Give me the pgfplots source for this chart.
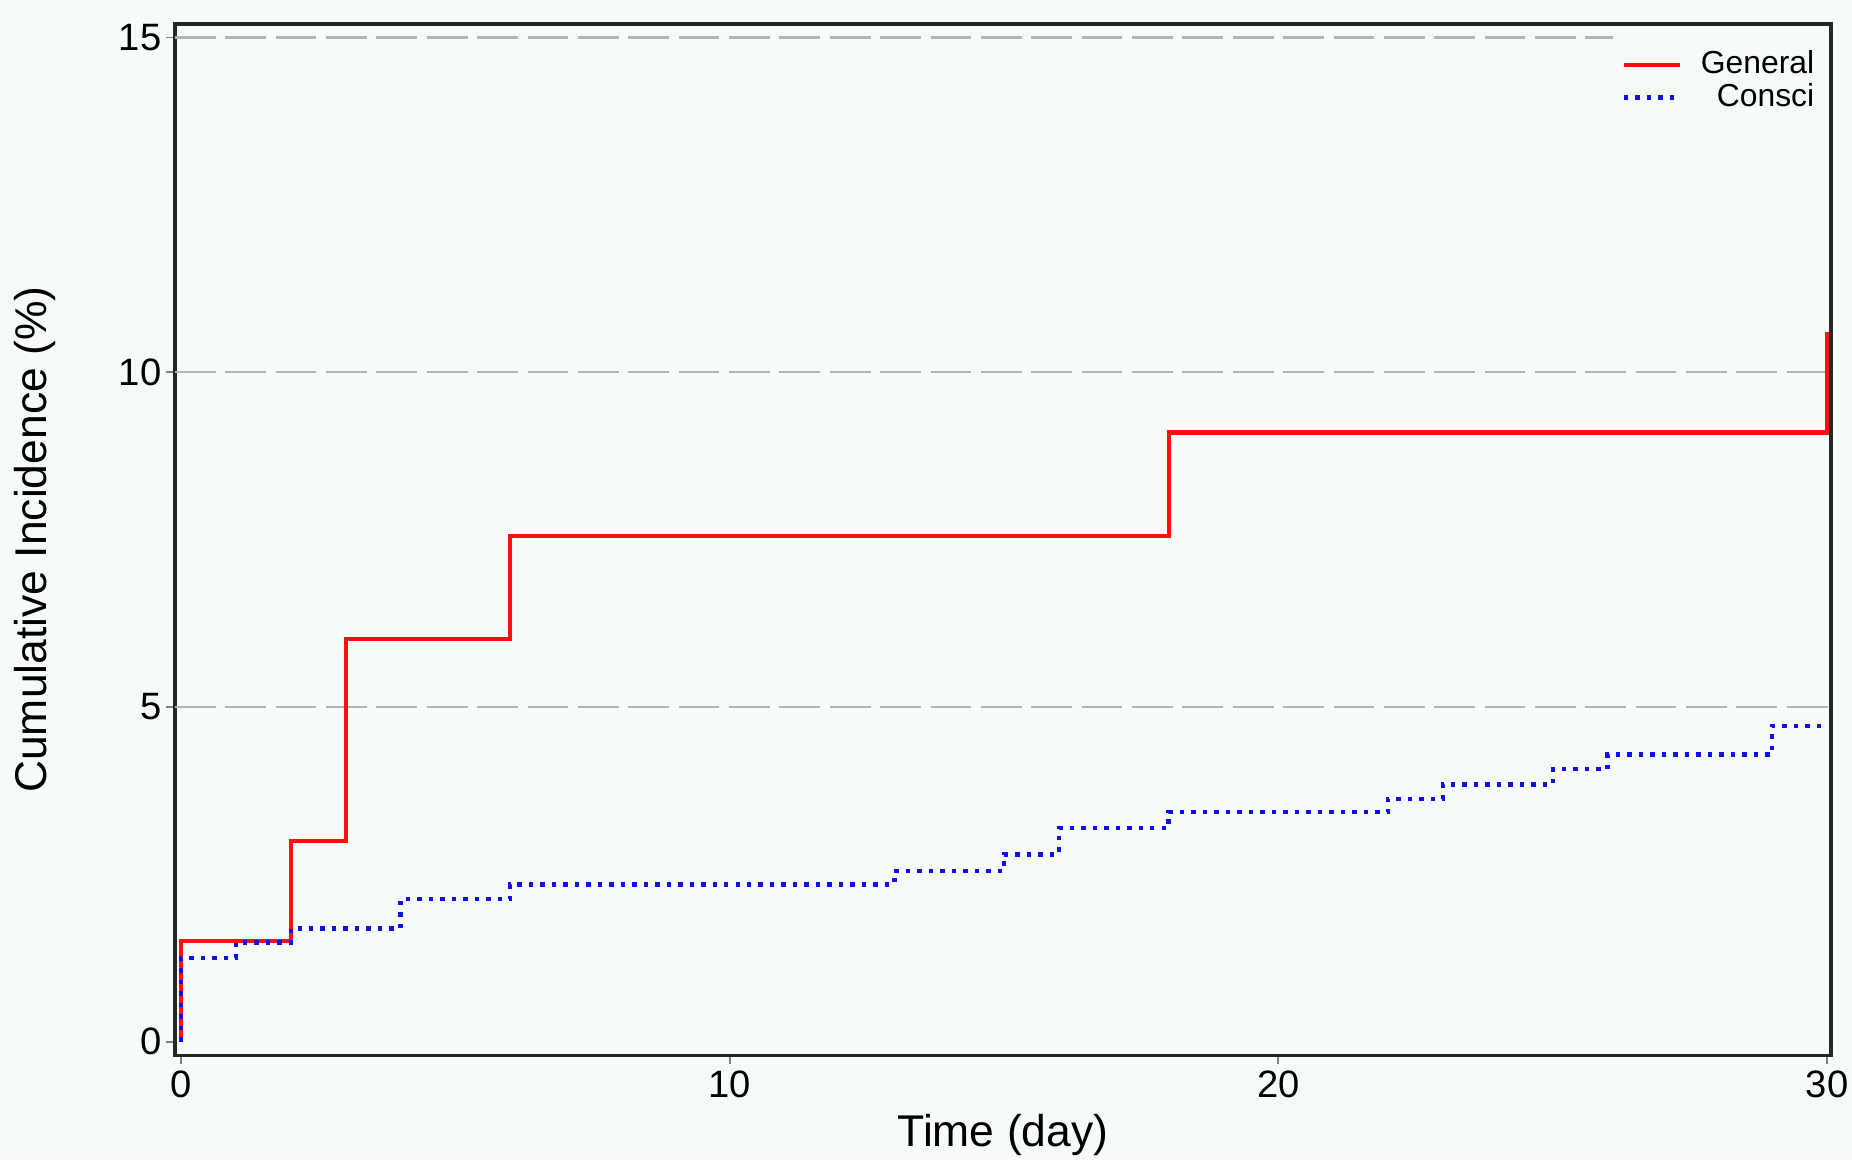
\documentclass[border=0pt]{standalone}
\usepackage{pgfplots}
\pgfplotsset{compat=1.18}
\usepackage{fontspec}
\setmainfont{Liberation Sans}
\definecolor{bgc}{RGB}{246,251,248}
\definecolor{gridc}{RGB}{180,180,180}
\definecolor{redc}{RGB}{255,15,15}
\definecolor{bluec}{RGB}{15,15,235}
\pgfplotsset{mylegend/.style={legend image code/.code={\draw[##1] (0pt,0pt) -- (15.2pt,0pt);}}}
\begin{document}
\begin{tikzpicture}
\fill[bgc] (-47.25pt,-28.4pt) rectangle (452.8pt,284.9pt);
\begin{axis}[
  at={(0,0)}, anchor=south west,
  scale only axis, width=447.1pt, height=278.4pt,
  xmin=-0.11, xmax=30.07, ymin=-0.2, ymax=15.2,
  xtick={0,10,20,30}, ytick={0,5,10,15},
  xtick pos=bottom, ytick pos=left,
  tick align=outside, major tick length=2.5pt,
  tick style={gray, line width=0.5pt},
  axis line style={black!85, line width=0.9pt},
  /pgf/number format/assume math mode=true,
  tick label style={font=\fontsize{10.3}{12}\selectfont},
  xticklabel style={inner sep=1.5pt},
  yticklabel style={inner sep=1pt},
  label style={font=\fontsize{12}{14}\selectfont},
  xlabel={Time (day)},
  ylabel={Cumulative Incidence (\%)},
  xlabel style={at={(axis description cs:0.5,-0.0884)}, anchor=base},
  ylabel style={at={(axis description cs:-0.0845,0.5)}, anchor=center},
  legend style={at={(axis description cs:1,1)}, anchor=north east,
    xshift=0.7pt, yshift=-3pt, draw=none, fill=none,
    font=\fontsize{8.6}{10}\selectfont, row sep=-3pt, column sep=3pt},
  legend cell align=right,
]
\addplot[gridc, line width=0.6pt, dash pattern=on 11pt off 2.6pt, forget plot] coordinates {(-0.11,5) (30.07,5)};
\addplot[gridc, line width=0.6pt, dash pattern=on 11pt off 2.6pt, forget plot] coordinates {(-0.11,10) (30.07,10)};
\addplot[gridc, line width=0.6pt, dash pattern=on 11pt off 2.6pt, forget plot] coordinates {(-0.11,15) (26.1,15)};
\addplot[redc, line width=1.1pt, const plot, mylegend] coordinates {
  (0,0) (0,1.5) (2,3.0) (3,6.02) (6,7.55) (18,9.1) (30,10.6)};
\addlegendentry{General}
\addplot[bluec, line width=1.2pt, dash pattern=on 1.2pt off 1.9pt, const plot, mylegend] coordinates {
  (0,0) (0,1.25) (1,1.48) (2,1.69) (4,2.13) (6,2.35) (13,2.55) (15,2.8) (16,3.19)
  (18,3.43) (22,3.63) (23,3.84) (25,4.07) (26,4.29) (29,4.72) (30,4.72)};
\addlegendentry{Consci}
\end{axis}
\pgfresetboundingbox
\path (-47.25pt,-28.4pt) rectangle (452.8pt,284.9pt);
\end{tikzpicture}
\end{document}
